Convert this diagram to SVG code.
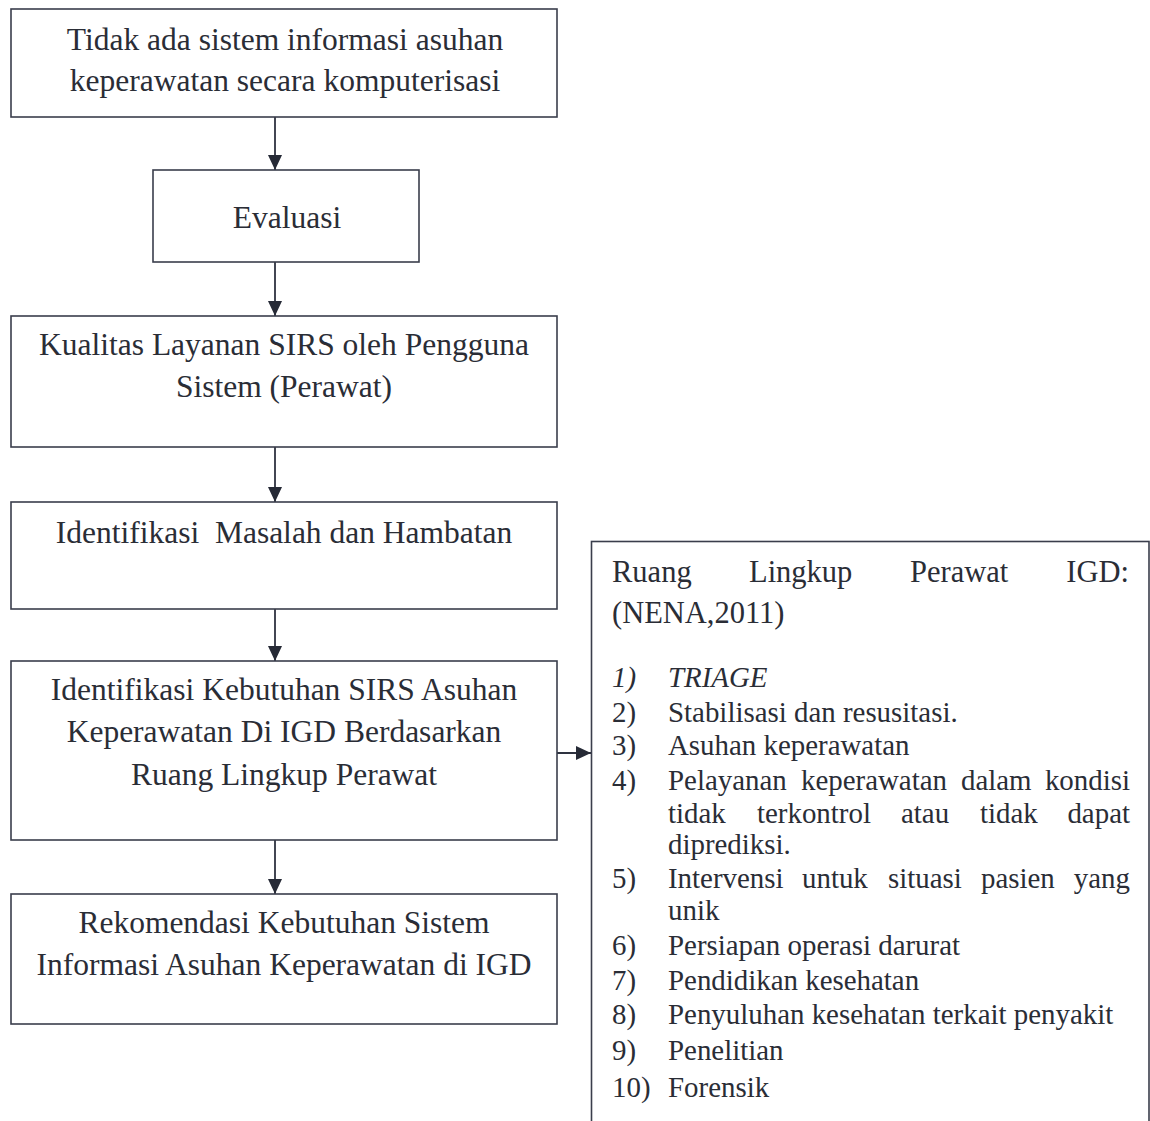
<svg xmlns="http://www.w3.org/2000/svg" width="1150" height="1121" viewBox="0 0 1150 1121">
  <style>
    .box { fill: #ffffff; stroke: #3a3e4c; stroke-width: 1.6; }
    .lbl { font-family: "Liberation Serif", "Times New Roman", serif; font-size: 31.5px; fill: #2a2d36; text-anchor: middle; }
    .hd { font-family: "Liberation Serif", "Times New Roman", serif; font-size: 30.5px; fill: #2a2d36; }
    .it { font-family: "Liberation Serif", "Times New Roman", serif; font-size: 28.9px; fill: #2a2d36; }
    .end { text-anchor: end; }
    .link { stroke: #2e3240; stroke-width: 1.8; fill: none; marker-end: url(#head); }
  </style>
  <defs>
    <marker id="head" markerUnits="userSpaceOnUse" markerWidth="16" markerHeight="16" refX="15" refY="7" orient="auto">
      <path d="M0,0 L15,7 L0,14 Z" fill="#262a36"/>
    </marker>
  </defs>
  <rect width="1150" height="1121" fill="#ffffff"/>

  <g id="connectors">
    <line class="link" x1="275" y1="117" x2="275" y2="170"/>
    <line class="link" x1="275" y1="262" x2="275" y2="316"/>
    <line class="link" x1="275" y1="447" x2="275" y2="502"/>
    <line class="link" x1="275" y1="609" x2="275" y2="661"/>
    <line class="link" x1="275" y1="840" x2="275" y2="894"/>
    <line class="link" x1="557" y1="753" x2="591" y2="753"/>
  </g>

  <g id="node-tidak-ada">
    <rect class="box" x="11" y="9" width="546" height="108"/>
    <text class="lbl" x="285" y="50">Tidak ada sistem informasi asuhan</text>
    <text class="lbl" x="285" y="91">keperawatan secara komputerisasi</text>
  </g>

  <g id="node-evaluasi">
    <rect class="box" x="153" y="170" width="266" height="92"/>
    <text class="lbl" x="287" y="228">Evaluasi</text>
  </g>

  <g id="node-kualitas">
    <rect class="box" x="11" y="316" width="546" height="131"/>
    <text class="lbl" x="284" y="355">Kualitas Layanan SIRS oleh Pengguna</text>
    <text class="lbl" x="284" y="397">Sistem (Perawat)</text>
  </g>

  <g id="node-masalah">
    <rect class="box" x="11" y="502" width="546" height="107"/>
    <text class="lbl" x="284" y="543" xml:space="preserve">Identifikasi  Masalah dan Hambatan</text>
  </g>

  <g id="node-kebutuhan">
    <rect class="box" x="11" y="661" width="546" height="179"/>
    <text class="lbl" x="284" y="700">Identifikasi Kebutuhan SIRS Asuhan</text>
    <text class="lbl" x="284" y="742">Keperawatan Di IGD Berdasarkan</text>
    <text class="lbl" x="284" y="785">Ruang Lingkup Perawat</text>
  </g>

  <g id="node-rekomendasi">
    <rect class="box" x="11" y="894" width="546" height="130"/>
    <text class="lbl" x="284" y="933">Rekomendasi Kebutuhan Sistem</text>
    <text class="lbl" x="284" y="975">Informasi Asuhan Keperawatan di IGD</text>
  </g>

  <g id="node-ruang-lingkup">
    <rect class="box" x="591.5" y="541.5" width="557.5" height="590"/>
    <!-- justified heading -->
    <text class="hd" x="612" y="582">Ruang</text>
    <text class="hd" x="749" y="582">Lingkup</text>
    <text class="hd" x="910" y="582">Perawat</text>
    <text class="hd end" x="1129" y="582">IGD:</text>
    <text class="hd" x="612" y="623">(NENA,2011)</text>

    <text class="it" x="612" y="687" font-style="italic">1)</text>
    <text class="it" x="668" y="687" font-style="italic">TRIAGE</text>

    <text class="it" x="612" y="722">2)</text>
    <text class="it" x="668" y="722">Stabilisasi dan resusitasi.</text>

    <text class="it" x="612" y="755">3)</text>
    <text class="it" x="668" y="755">Asuhan keperawatan</text>

    <text class="it" x="612" y="790">4)</text>
    <text class="it" x="668" y="790">Pelayanan</text>
    <text class="it" x="801" y="790">keperawatan</text>
    <text class="it" x="961" y="790">dalam</text>
    <text class="it end" x="1130" y="790">kondisi</text>
    <text class="it" x="668" y="823">tidak</text>
    <text class="it" x="757" y="823">terkontrol</text>
    <text class="it" x="901" y="823">atau</text>
    <text class="it" x="980" y="823">tidak</text>
    <text class="it end" x="1130" y="823">dapat</text>
    <text class="it" x="668" y="854">diprediksi.</text>

    <text class="it" x="612" y="888">5)</text>
    <text class="it" x="668" y="888">Intervensi</text>
    <text class="it" x="802" y="888">untuk</text>
    <text class="it" x="888" y="888">situasi</text>
    <text class="it" x="981" y="888">pasien</text>
    <text class="it end" x="1130" y="888">yang</text>
    <text class="it" x="668" y="920">unik</text>

    <text class="it" x="612" y="955">6)</text>
    <text class="it" x="668" y="955">Persiapan operasi darurat</text>

    <text class="it" x="612" y="990">7)</text>
    <text class="it" x="668" y="990">Pendidikan kesehatan</text>

    <text class="it" x="612" y="1024">8)</text>
    <text class="it" x="668" y="1024">Penyuluhan kesehatan terkait penyakit</text>

    <text class="it" x="612" y="1060">9)</text>
    <text class="it" x="668" y="1060">Penelitian</text>

    <text class="it" x="612" y="1097">10)</text>
    <text class="it" x="668" y="1097">Forensik</text>
  </g>
</svg>
